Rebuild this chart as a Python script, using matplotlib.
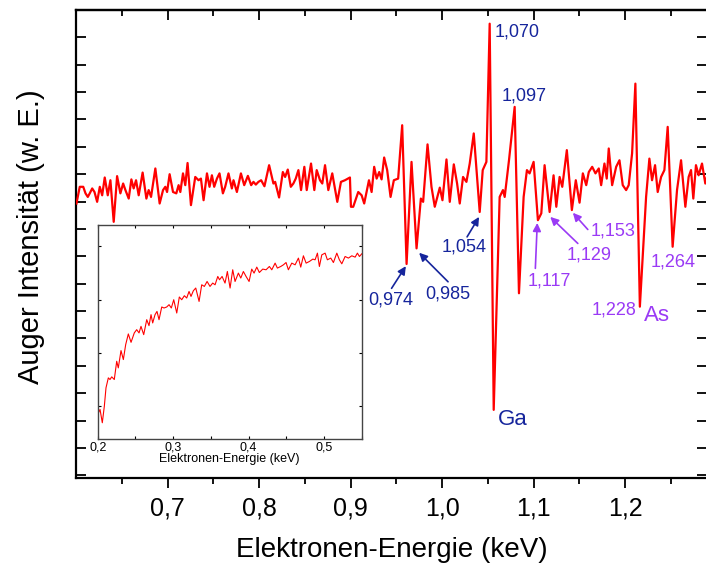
import numpy as np
import matplotlib
matplotlib.use("Agg")
from matplotlib import pyplot as plt
from matplotlib.ticker import FuncFormatter

plt.rcParams['font.family'] = ['Liberation Sans', 'DejaVu Sans']

# main spectrum (differentiated Auger spectrum), energy in keV, intensity in arb. units
energy = [0.6005, 0.6041, 0.6079, 0.6104, 0.6129, 0.6150, 0.6177, 0.6202, 0.6231, 0.6260,
          0.6286, 0.6314, 0.6347, 0.6376, 0.6412, 0.6449, 0.6485, 0.6515, 0.6540, 0.6576,
          0.6605, 0.6630, 0.6656, 0.6685, 0.6728, 0.6769, 0.6794, 0.6820, 0.6867, 0.6914,
          0.6951, 0.6976, 0.6995, 0.7023, 0.7060, 0.7096, 0.7121, 0.7140, 0.7169, 0.7194,
          0.7219, 0.7256, 0.7303, 0.7339, 0.7365, 0.7394, 0.7431, 0.7459, 0.7485, 0.7510,
          0.7540, 0.7568, 0.7605, 0.7630, 0.7666, 0.7703, 0.7721, 0.7758, 0.7802, 0.7838,
          0.7878, 0.7914, 0.7939, 0.7965, 0.7993, 0.8023, 0.8059, 0.8110, 0.8157, 0.8176,
          0.8219, 0.8260, 0.8285, 0.8314, 0.8347, 0.8375, 0.8401, 0.8430, 0.8459, 0.8495,
          0.8521, 0.8568, 0.8604, 0.8630, 0.8666, 0.8691, 0.8721, 0.8757, 0.8800, 0.8855,
          0.8895, 0.8939, 0.8993, 0.9004, 0.9029, 0.9084, 0.9121, 0.9149, 0.9201, 0.9230,
          0.9258, 0.9285, 0.9313, 0.9339, 0.9367, 0.9400, 0.9437, 0.9473, 0.9520, 0.9564,
          0.9612, 0.9666, 0.9721, 0.9768, 0.9793, 0.9841, 0.9884, 0.9920, 0.9975, 1.0004,
          1.0048, 1.0084, 1.0128, 1.0164, 1.0193, 1.0229, 1.0266, 1.0302, 1.0346, 1.0411,
          1.0444, 1.0484, 1.0520, 1.0564, 1.0629, 1.0665, 1.0684, 1.0731, 1.0793, 1.0840,
          1.0891, 1.0927, 1.0956, 1.1000, 1.1047, 1.1084, 1.1120, 1.1175, 1.1218, 1.1248,
          1.1284, 1.1313, 1.1363, 1.1418, 1.1461, 1.1502, 1.1538, 1.1575, 1.1603, 1.1640,
          1.1676, 1.1712, 1.1738, 1.1774, 1.1799, 1.1821, 1.1858, 1.1902, 1.1938, 1.1974,
          1.2011, 1.2039, 1.2076, 1.2112, 1.2161, 1.2229, 1.2265, 1.2294, 1.2327, 1.2356,
          1.2393, 1.2429, 1.2465, 1.2519, 1.2567, 1.2611, 1.2658, 1.2694, 1.2720, 1.2745,
          1.2774, 1.2803, 1.2840, 1.2876, 1.2898]
intensity = [9.93, 10.54, 10.54, 10.30, 10.17, 10.30, 10.48, 10.35, 9.99, 10.54,
             10.23, 10.88, 10.23, 10.78, 9.26, 10.93, 10.30, 10.66, 10.42, 10.11,
             10.81, 10.48, 10.78, 10.23, 11.06, 10.11, 10.42, 10.17, 11.21, 9.93,
             10.42, 10.54, 10.35, 11.00, 10.35, 10.30, 10.60, 10.35, 11.03, 10.60,
             11.41, 9.87, 10.90, 10.78, 10.84, 10.05, 11.03, 10.54, 10.96, 10.54,
             10.84, 11.03, 10.30, 10.54, 11.03, 10.48, 10.78, 10.35, 11.03, 10.60,
             10.94, 10.60, 10.72, 10.62, 10.72, 10.78, 10.56, 11.33, 10.66, 10.72,
             10.15, 11.08, 10.90, 11.17, 10.54, 10.66, 10.84, 11.15, 10.42, 11.27,
             10.42, 11.39, 10.42, 11.15, 10.78, 10.66, 11.33, 10.42, 11.03, 9.99,
             10.72, 10.78, 10.88, 9.81, 9.81, 10.35, 10.23, 9.93, 10.78, 10.35,
             11.27, 10.84, 11.08, 10.81, 11.61, 11.15, 10.17, 10.78, 10.84, 12.79,
             7.72, 11.45, 8.29, 10.11, 9.99, 12.09, 10.54, 9.81, 10.51, 10.05,
             11.54, 9.99, 11.36, 10.66, 9.93, 10.90, 10.72, 11.39, 12.49, 9.62,
             11.15, 11.45, 16.50, 2.39, 10.17, 10.42, 10.17, 11.51, 13.46, 6.65,
             10.17, 11.15, 11.03, 11.45, 9.32, 9.57, 11.33, 9.62, 10.96, 9.81,
             10.90, 10.54, 11.88, 9.69, 10.78, 9.96, 11.03, 10.60, 11.08, 11.27,
             11.03, 11.21, 10.60, 11.39, 10.84, 11.94, 10.60, 11.27, 11.51, 10.60,
             10.42, 10.60, 11.76, 14.31, 6.16, 10.17, 11.57, 10.78, 11.33, 10.35,
             10.90, 11.15, 12.73, 8.35, 10.42, 11.51, 9.81, 10.90, 11.15, 10.11,
             11.33, 10.96, 11.39, 10.66, 10.96]

# inset: survey spectrum 0.2 - 0.55 keV
inset_energy = [0.2000, 0.2031, 0.2061, 0.2088, 0.2110, 0.2141, 0.2163, 0.2186, 0.2220, 0.2252,
                0.2273, 0.2309, 0.2340, 0.2371, 0.2406, 0.2442, 0.2485, 0.2517, 0.2548, 0.2574,
                0.2610, 0.2650, 0.2680, 0.2707, 0.2729, 0.2760, 0.2786, 0.2813, 0.2849, 0.2879,
                0.2915, 0.2946, 0.2976, 0.3008, 0.3048, 0.3082, 0.3114, 0.3149, 0.3180, 0.3211,
                0.3237, 0.3268, 0.3300, 0.3344, 0.3379, 0.3414, 0.3450, 0.3489, 0.3525, 0.3556,
                0.3592, 0.3615, 0.3649, 0.3688, 0.3719, 0.3755, 0.3790, 0.3821, 0.3865, 0.3897,
                0.3931, 0.3967, 0.4007, 0.4042, 0.4073, 0.4109, 0.4143, 0.4188, 0.4232, 0.4276,
                0.4308, 0.4352, 0.4382, 0.4427, 0.4462, 0.4497, 0.4528, 0.4573, 0.4617, 0.4661,
                0.4692, 0.4727, 0.4763, 0.4806, 0.4852, 0.4882, 0.4913, 0.4939, 0.4971, 0.5015,
                0.5045, 0.5090, 0.5125, 0.5170, 0.5204, 0.5236, 0.5280, 0.5324, 0.5369, 0.5413,
                0.5443, 0.5470, 0.5501]
inset_intensity = [0.850, 0.944, 0.695, 1.006, 1.350, 1.536, 1.505, 1.555, 1.505, 1.847,
                   1.723, 2.047, 1.879, 2.159, 2.359, 2.202, 2.378, 2.439, 2.378, 2.501,
                   2.346, 2.626, 2.514, 2.720, 2.565, 2.720, 2.781, 2.626, 2.864, 2.845,
                   2.864, 2.907, 2.845, 3.000, 2.751, 3.051, 3.000, 3.075, 3.032, 3.155,
                   3.062, 3.168, 3.219, 2.968, 3.280, 3.249, 3.342, 3.249, 3.312, 3.280,
                   3.436, 3.374, 3.436, 3.312, 3.529, 3.219, 3.561, 3.342, 3.499, 3.406,
                   3.529, 3.436, 3.342, 3.574, 3.499, 3.611, 3.510, 3.574, 3.561, 3.623,
                   3.561, 3.686, 3.593, 3.623, 3.654, 3.697, 3.561, 3.686, 3.654, 3.780,
                   3.611, 3.823, 3.686, 3.716, 3.761, 3.748, 3.873, 3.623, 3.841, 3.873,
                   3.748, 3.780, 3.697, 3.873, 3.748, 3.673, 3.810, 3.780, 3.823, 3.798,
                   3.873, 3.810, 3.860]

# peak labels: text, text position, arrow start, arrow tip (None = no arrow), colour
blue = '#16259c'
purple = '#9a3af5'
peak_labels = ['1,070', '1,097', '1,054', '0,974', '0,985', '1,117', '1,129', '1,153', '1,264', '1,228']
label_pos = [(1.0575, 16.20), (1.0651, 13.85), (1.0000, 8.35), (0.9190, 6.42), (0.9814, 6.64),
             (1.0935, 7.11), (1.1360, 8.04), (1.1618, 8.92), (1.2283, 7.79), (1.1629, 6.04)]
arrow_from = [None, None, (1.0273, 8.71), (0.9448, 6.83), (1.0065, 7.07),
              (1.1019, 7.56), (1.1483, 8.47), (1.1592, 8.98), None, None]
arrow_to = [None, None, (1.0404, 9.44), (0.9604, 7.64), (0.9749, 8.13),
            (1.1040, 9.22), (1.1182, 9.44), (1.1429, 9.59), None, None]
label_colors = [blue, blue, blue, blue, blue, purple, purple, purple, purple, purple]

comma = FuncFormatter(lambda v, p: ('%.1f' % v).replace('.', ','))

fig = plt.figure(figsize=(7.06, 5.67), dpi=100)
ax = fig.add_axes([76/706, 89/567, 631.5/706, 468/567])
ax.plot(energy, intensity, color='red', lw=1.6, zorder=3)

ax.set_xlim(0.6, 1.29)
ax.set_ylim(-0.1, 17.0)
ax.set_xticks(np.arange(0.7, 1.25, 0.1))
ax.set_xticks(np.arange(0.65, 1.29, 0.1), minor=True)
ax.xaxis.set_major_formatter(comma)
ax.set_yticks(np.arange(1, 18, 2))
ax.set_yticks(np.arange(0, 17, 2), minor=True)
ax.tick_params(axis='x', which='major', direction='out', length=7, width=1.3, labelsize=18, pad=6, top=False)
ax.tick_params(axis='x', which='minor', direction='out', length=4, width=1.3, top=False)
ax.tick_params(axis='y', which='both', direction='in', length=7, width=1.3, labelleft=False, right=True)
for s in ax.spines.values():
    s.set_linewidth(1.6)

top = ax.secondary_xaxis('top')
top.set_xticks(np.arange(0.7, 1.25, 0.1))
top.set_xticks(np.arange(0.65, 1.29, 0.1), minor=True)
top.tick_params(which='major', direction='in', length=7, width=1.3, labeltop=False)
top.tick_params(which='minor', direction='in', length=4, width=1.3)
top.spines['top'].set_linewidth(1.6)

ax.set_xlabel('Elektronen-Energie (keV)', fontsize=20, labelpad=12)
ax.set_ylabel('Auger Intensität (w. E.)', fontsize=21)
ax.yaxis.set_label_coords(-0.049, 0.515)

for i, txt in enumerate(peak_labels):
    ax.text(label_pos[i][0], label_pos[i][1], txt, color=label_colors[i], fontsize=13,
            ha='left', va='center', zorder=5)
    if arrow_from[i] is not None:
        ax.annotate('', xy=arrow_to[i], xytext=arrow_from[i],
                    arrowprops=dict(arrowstyle='-|>', color=label_colors[i], lw=1.2,
                                    mutation_scale=12, shrinkA=0, shrinkB=0), zorder=5)
ax.text(1.0610, 2.02, 'Ga', color=blue, fontsize=16, ha='left', va='center')
ax.text(1.2210, 5.85, 'As', color=purple, fontsize=16, ha='left', va='center')

# inset
ins = fig.add_axes([97.7/706, 128.5/567, 264/706, 213.5/567])
ins.plot(inset_energy, inset_intensity, color='red', lw=0.8)
ins.set_xlim(0.2, 0.55)
ins.set_ylim(0.4, 4.4)
ins.set_xticks([0.2, 0.3, 0.4, 0.5])
ins.set_xticks([0.25, 0.35, 0.45, 0.55], minor=True)
ins.set_yticks([1, 2, 3, 4])
ins.xaxis.set_major_formatter(comma)
ins.tick_params(which='both', direction='in', length=2.5, width=0.8, top=True, right=True,
                labelleft=False, labelsize=9, pad=2)
ins.set_xlabel('Elektronen-Energie (keV)', fontsize=9, labelpad=0)
for s in ins.spines.values():
    s.set_linewidth(1.0)
    s.set_color('#444444')

fig.savefig('out.png', dpi=100)
